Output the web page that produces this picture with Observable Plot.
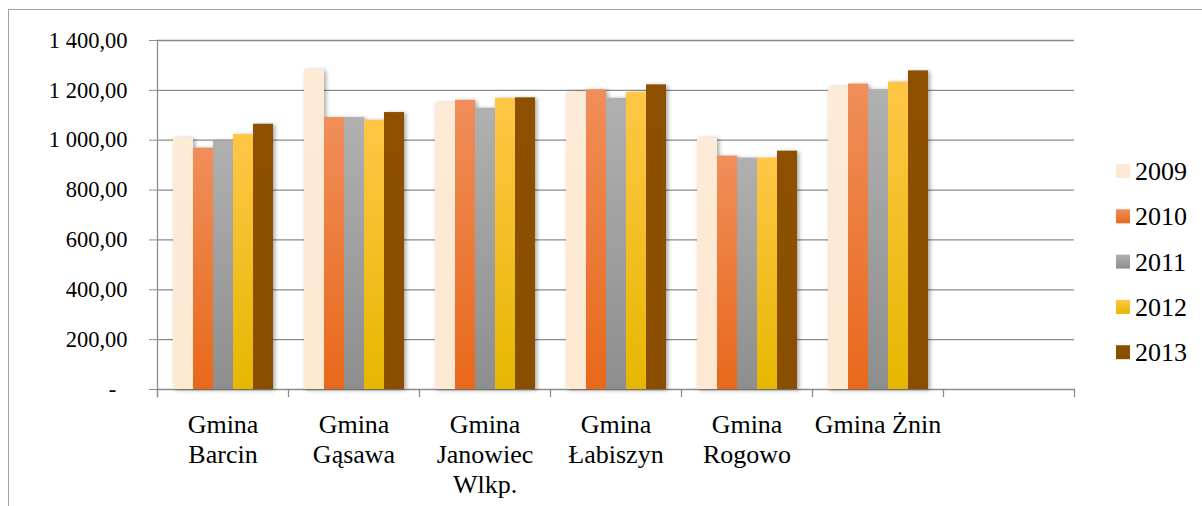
<!DOCTYPE html>
<html><head><meta charset="utf-8">
<script src="https://cdn.jsdelivr.net/npm/d3@7"></script>
<script src="https://cdn.jsdelivr.net/npm/@observablehq/plot@0.6"></script>
<style>
body{margin:0;background:#fff;}
#wrap{position:relative;width:1202px;height:506px;overflow:hidden;background:#fff;font-family:"Liberation Serif";}
#wrap svg text, #wrap svg tspan{font-family:"Liberation Serif" !important;font-variant:normal !important;}
#border{position:absolute;left:8px;top:9px;width:1400px;height:800px;border:1.5px solid #a3a3a3;}
#chart{position:absolute;left:0;top:0;}
#legend{position:absolute;left:0;top:0;}
</style></head><body>
<div id="wrap"><div id="border"></div><div id="chart"></div><svg id="legend" width="1202" height="506"></svg><svg width="0" height="0" style="position:absolute"><defs id="defs"></defs></svg></div>
<script>
const gminy = ["Gmina\nBarcin", "Gmina\nGąsawa", "Gmina\nJanowiec\nWlkp.", "Gmina\nŁabiszyn", "Gmina\nRogowo", "Gmina Żnin"];
const years = ["2009", "2010", "2011", "2012", "2013"];
const v2009 = [1009, 1282, 1150, 1194, 1009, 1213];
const v2010 = [968, 1091, 1160, 1202, 936, 1225];
const v2011 = [996, 1091, 1128, 1168, 928, 1202];
const v2012 = [1023, 1080, 1168, 1192, 928, 1233];
const v2013 = [1064, 1111, 1170, 1222, 956, 1278];
const yTicks = [0, 200, 400, 600, 800, 1000, 1200, 1400];
const topColors = ["#FDEBD7", "#F08E5A", "#B0B0B0", "#FFC647", "#8C5000"];
const bottomColors = ["#FDE8D1", "#E8681A", "#8E8E8E", "#E6B700", "#8A4E00"];

const series = [v2009, v2010, v2011, v2012, v2013];
const rows = [];
years.forEach((y, j) => gminy.forEach((g, i) => rows.push({gmina: g, year: y, value: series[j][i]})));

const defs = d3.select("#defs");
years.forEach((y, j) => {
  const lg = defs.append("linearGradient").attr("id", "grad" + y).attr("x1", 0).attr("y1", 0).attr("x2", 0).attr("y2", 1);
  lg.append("stop").attr("offset", "0%").attr("stop-color", topColors[j]);
  lg.append("stop").attr("offset", "100%").attr("stop-color", bottomColors[j]);
});

const loc = d3.formatLocale({decimal: ",", thousands: " ", grouping: [3], currency: ["", ""]});
const f2 = loc.format(",.2f");
const fmt = d => d === 0 ? "-\u2007" : f2(d);
const GRID = "#8c8c8c";
const FONT = "Liberation Serif";
const H = 506, MT = 40, MB = 117;
const lineOpts = {stroke: GRID, strokeWidth: 1.3};

const plot = Plot.plot({
  width: 1202, height: H,
  marginLeft: 155, marginRight: 127, marginTop: MT, marginBottom: MB,
  style: {fontFamily: FONT, background: "transparent", color: "black", overflow: "visible"},
  fx: {domain: [...gminy, ""], padding: 0, axis: null},
  x: {domain: years, paddingInner: 0, paddingOuter: 0.75, axis: null},
  y: {domain: [0, 1400], axis: null},
  color: {type: "ordinal", domain: years, range: years.map(y => `url(#grad${y})`)},
  marks: [
    Plot.gridY(yTicks, {...lineOpts, strokeOpacity: 1}),
    Plot.gridY(yTicks, {...lineOpts, strokeOpacity: 1, facetAnchor: "right"}),
    Plot.frame({...lineOpts, anchor: "left", facetAnchor: "left", insetBottom: -7}),
    Plot.frame({...lineOpts, anchor: "left", insetTop: H - MT - MB, insetBottom: -7}),
    Plot.frame({...lineOpts, anchor: "left", facetAnchor: "right", insetTop: H - MT - MB, insetBottom: -7}),
    Plot.frame({...lineOpts, anchor: "right", facetAnchor: "right", insetTop: H - MT - MB, insetBottom: -7}),
    Plot.axisY(yTicks, {tickSize: 8, tickPadding: 22, tickFormat: fmt, fontSize: 22.5, fontFamily: FONT, stroke: GRID, fill: "black", label: null}),
    Plot.barY(rows, {fx: "gmina", x: "year", y: "value", fill: "year", imageFilter: "drop-shadow(2px 1px 2px rgba(0,0,0,0.35))"}),
    Plot.axisFx({anchor: "bottom", tickSize: 0, tickPadding: 22, fontSize: 26, fontFamily: FONT, lineHeight: 1.15, label: null, fill: "black"})
  ]
});
document.getElementById("chart").appendChild(plot);

const leg = d3.select("#legend");
years.forEach((y, i) => {
  const top = 164 + i * 45.3;
  leg.append("rect").attr("x", 1116).attr("y", top).attr("width", 14).attr("height", 14).attr("fill", `url(#grad${y})`);
  leg.append("text").attr("x", 1135).attr("y", top + 16).attr("font-size", 26).attr("font-family", FONT).attr("fill", "black").text(y);
});
</script>
</body></html>
